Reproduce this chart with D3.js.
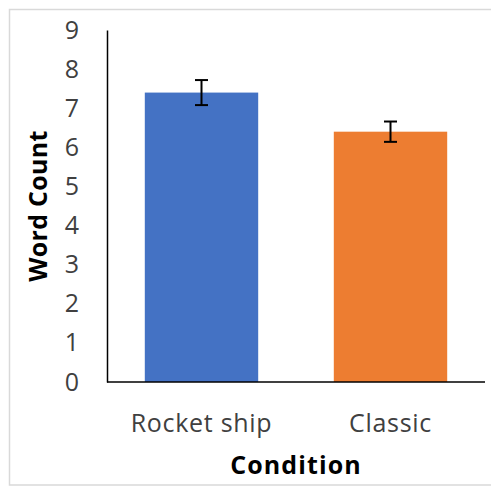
<!DOCTYPE html>
<html>
<head>
<meta charset="utf-8">
<script src="https://cdn.jsdelivr.net/npm/d3@7"></script>
<style>
  html, body { margin: 0; padding: 0; background: #fff; }
  svg { display: block; }
</style>
</head>
<body>
<svg id="chart" width="491" height="486"></svg>
<script>
const categories = ["Rocket ship", "Classic"];
const values = [7.4, 6.4];
const errors = [0.32, 0.26];
const colors = ["#4472C4", "#ED7D31"];
const yTicks = [0, 1, 2, 3, 4, 5, 6, 7, 8, 9];
const xTitle = "Condition";
const yTitle = "Word Count";

const W = 491, H = 486;
const margin = { left: 107, right: 6, top: 30, bottom: 104 };
const svg = d3.select("#chart");
const font = "'Open Sans', 'DejaVu Sans', sans-serif";

// outer border
svg.append("rect")
  .attr("x", 9.5).attr("y", 9.5)
  .attr("width", W + 10).attr("height", 476 - 0.5)
  .attr("fill", "#fff").attr("stroke", "#d9d9d9").attr("stroke-width", 1.5);

const x = d3.scaleBand().domain(categories)
  .range([margin.left, W - margin.right]).paddingInner(0.4).paddingOuter(0.2);
const y = d3.scaleLinear().domain([0, 9]).range([H - margin.bottom, margin.top]);

// bars
svg.append("g").selectAll("rect").data(categories).join("rect")
  .attr("x", d => x(d)).attr("width", x.bandwidth())
  .attr("y", (d, i) => y(values[i]))
  .attr("height", (d, i) => y(0) - y(values[i]))
  .attr("fill", (d, i) => colors[i]);

// error bars
const eb = svg.append("g").attr("stroke", "#000").attr("stroke-width", 2);
categories.forEach((c, i) => {
  const cx = x(c) + x.bandwidth() / 2;
  const hi = y(values[i] + errors[i]), lo = y(values[i] - errors[i]);
  eb.append("line").attr("x1", cx).attr("x2", cx).attr("y1", hi).attr("y2", lo);
  eb.append("line").attr("x1", cx - 6.5).attr("x2", cx + 6.5).attr("y1", hi).attr("y2", hi);
  eb.append("line").attr("x1", cx - 6.5).attr("x2", cx + 6.5).attr("y1", lo).attr("y2", lo);
});

// y axis
const yAxis = d3.axisLeft(y).tickValues(yTicks).tickSize(0).tickPadding(28).tickFormat(d3.format("d"));
const gy = svg.append("g").attr("transform", `translate(${margin.left},0)`).call(yAxis);
gy.select(".domain").attr("stroke", "#000").attr("stroke-width", 1.5);
gy.selectAll("text").attr("font-family", font).attr("font-size", 25).attr("fill", "#404040");

// x axis
const xAxis = d3.axisBottom(x).tickSize(0).tickPadding(32);
const gx = svg.append("g").attr("transform", `translate(0,${y(0)})`).call(xAxis);
gx.select(".domain").attr("stroke", "#000").attr("stroke-width", 1.5)
  .attr("d", `M${margin.left},0H${W - margin.right}`);
gx.selectAll("text").attr("font-family", font).attr("font-size", 25)
  .attr("letter-spacing", 0.7).attr("fill", "#404040");

// titles
svg.append("text")
  .attr("x", (margin.left + W - margin.right) / 2).attr("y", 474)
  .attr("text-anchor", "middle").attr("font-family", font)
  .attr("font-weight", "bold").attr("font-size", 25).attr("letter-spacing", 1.1)
  .attr("fill", "#000")
  .text(xTitle);

svg.append("text")
  .attr("transform", `translate(47,${(margin.top + H - margin.bottom) / 2}) rotate(-90)`)
  .attr("text-anchor", "middle").attr("font-family", font)
  .attr("font-weight", "bold").attr("font-size", 25).attr("letter-spacing", 0.3)
  .attr("fill", "#000")
  .text(yTitle);
</script>
</body>
</html>
